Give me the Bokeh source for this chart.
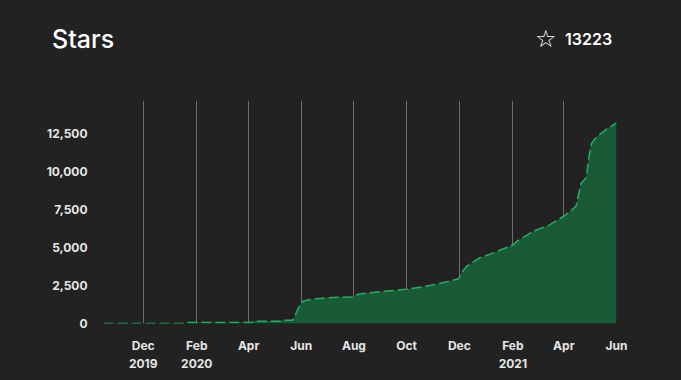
import pandas as pd
from bokeh.plotting import figure
from bokeh.layouts import column
from bokeh.models import FixedTicker, Range1d, ColumnDataSource, NumeralTickFormatter, Div
from bokeh.embed import file_html
from bokeh.resources import INLINE

# ---- data ----
dates = ["2019-10-16", "2020-01-20", "2020-01-22", "2020-04-05", "2020-04-06",
         "2020-05-08", "2020-05-09", "2020-05-22", "2020-05-27", "2020-05-31",
         "2020-06-03", "2020-06-11", "2020-06-30", "2020-07-16", "2020-07-31",
         "2020-08-03", "2020-08-08", "2020-08-31", "2020-10-01", "2020-10-28",
         "2020-11-17", "2020-11-30", "2020-12-02", "2020-12-04", "2020-12-10",
         "2020-12-25", "2021-01-10", "2021-02-01", "2021-02-06", "2021-02-25",
         "2021-03-16", "2021-04-01", "2021-04-15", "2021-04-21", "2021-04-27",
         "2021-04-30", "2021-05-03", "2021-05-09", "2021-05-21", "2021-06-01"]
stars = [5, 8, 65, 70, 140,
         150, 210, 220, 800, 1300,
         1470, 1580, 1690, 1730, 1750,
         1880, 1950, 2100, 2260, 2500,
         2760, 2950, 3150, 3380, 3800,
         4340, 4670, 5170, 5430, 6090,
         6520, 7070, 7720, 9240, 9610,
         10980, 11860, 12290, 12840, 13223]
tick_dates = ["2019-12-01", "2020-02-01", "2020-04-01", "2020-06-01", "2020-08-01",
              "2020-10-01", "2020-12-01", "2021-02-01", "2021-04-01", "2021-06-01"]
tick_labels = ["Dec\n2019", "Feb\n2020", "Apr", "Jun", "Aug",
               "Oct", "Dec", "Feb\n2021", "Apr", "Jun"]
y_ticks = [0, 2500, 5000, 7500, 10000, 12500]
title_text = "Stars"
star_icon = "\u2606"
total_text = "13223"

BG = "#222222"
FONT = "Inter"
W = 681

# ---- header (title row) ----
header_html = (
    f'<div style="position:relative;width:{W}px;height:100px;color:#ffffff;">'
    f'<span style="position:absolute;left:52px;top:24px;font-family:{FONT};'
    f'font-size:25px;font-weight:500;line-height:30px;">{title_text}</span>'
    f'<span style="position:absolute;left:535px;top:25px;font-family:\'DejaVu Sans\';'
    f'font-size:24px;font-weight:bold;line-height:28px;">{star_icon}</span>'
    f'<span style="position:absolute;left:565px;top:29px;font-family:{FONT};'
    f'font-size:16px;font-weight:600;line-height:20px;">{total_text}</span>'
    '</div>'
)
h = Div(text=header_html, width=W, height=100, margin=(0, 0, 0, 0),
        styles={"background-color": BG})

# ---- chart ----
x = pd.to_datetime(dates)
src = ColumnDataSource(dict(x=x, y=stars))

p = figure(width=W, height=280, x_axis_type="datetime",
           output_backend="svg", toolbar_location=None,
           x_range=Range1d(x.min(), x.max()), y_range=Range1d(0, 14700),
           min_border_left=103, min_border_right=65,
           min_border_top=0, min_border_bottom=57,
           background_fill_color=BG, border_fill_color=BG,
           outline_line_color=None, margin=(0, 0, 0, 0))

p.varea(x="x", y1=0, y2="y", source=src, fill_color="#1a5a37")
p.line(x="x", y="y", source=src, line_color="#14b85e", line_width=1.5,
       line_dash="10 4")

tick_ms = [float(pd.Timestamp(d).value // 10**6) for d in tick_dates]
p.xaxis.ticker = FixedTicker(ticks=tick_ms)
p.xaxis.major_label_overrides = {t: l for t, l in zip(tick_ms, tick_labels)}
p.yaxis.ticker = FixedTicker(ticks=y_ticks)
p.yaxis.formatter = NumeralTickFormatter(format="0,0")

for ax in (p.xaxis, p.yaxis):
    ax.axis_line_color = None
    ax.major_tick_line_color = None
    ax.minor_tick_line_color = None
    ax.major_tick_out = 0
    ax.major_tick_in = 0
    ax.major_label_text_color = "#e6e6e6"
    ax.major_label_text_font = FONT
    ax.major_label_text_font_size = "12px"
    ax.major_label_text_font_style = "bold"
p.xaxis.major_label_standoff = 14
p.yaxis.major_label_standoff = 16

p.xgrid.grid_line_color = "#6e6e6e"
p.xgrid.grid_line_width = 1
p.ygrid.grid_line_color = None

layout = column(h, p, spacing=0, margin=(0, 0, 0, 0))

html = file_html(layout, INLINE, title="Stars")
html = html.replace("<head>", "<head><style>html,body{background:#222222;}</style>", 1)
open("out.html", "w").write(html)
